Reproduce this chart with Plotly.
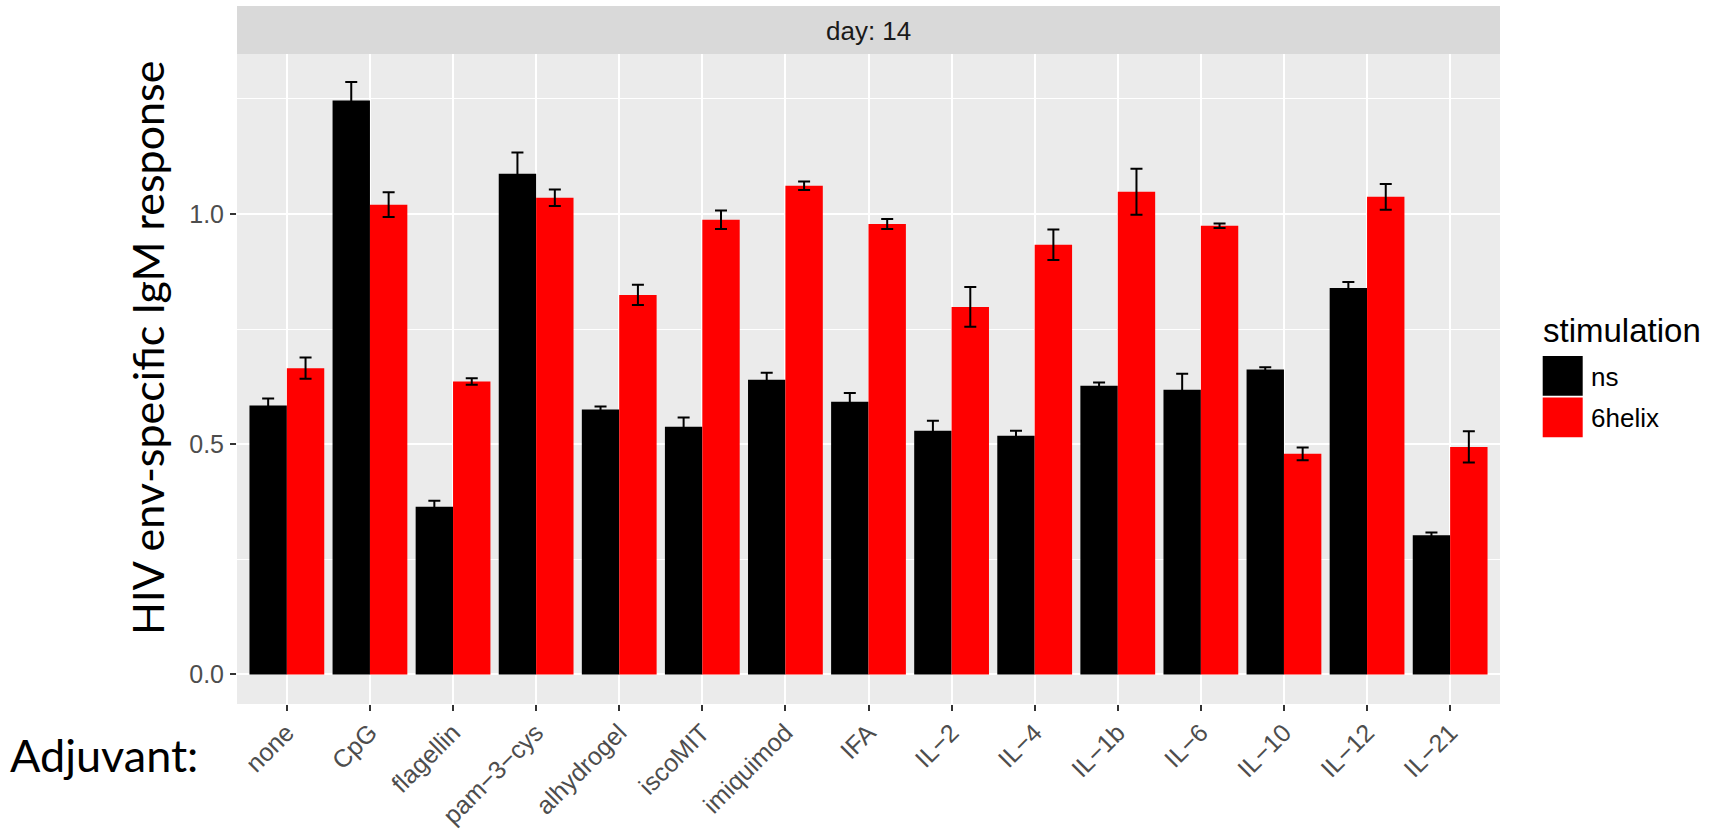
import plotly.graph_objects as go

# ---- data ----
categories = ["none", "CpG", "flagellin", "pam\u22123\u2212cys", "alhydrogel", "iscoMIT",
              "imiquimod", "IFA", "IL\u22122", "IL\u22124", "IL\u22121b", "IL\u22126",
              "IL\u221210", "IL\u221212", "IL\u221221"]
ns_values = [0.584, 1.246, 0.364, 1.087, 0.575, 0.538, 0.640, 0.592, 0.529, 0.518,
             0.627, 0.618, 0.662, 0.839, 0.302]
ns_err = [0.015, 0.040, 0.013, 0.046, 0.007, 0.020, 0.015, 0.019, 0.022, 0.011,
          0.007, 0.035, 0.005, 0.013, 0.006]
helix_values = [0.665, 1.020, 0.636, 1.035, 0.824, 0.987, 1.061, 0.978, 0.798, 0.933,
                1.048, 0.974, 0.479, 1.037, 0.494]
helix_err = [0.023, 0.027, 0.007, 0.018, 0.022, 0.020, 0.009, 0.011, 0.043, 0.033,
             0.050, 0.005, 0.014, 0.028, 0.034]
series_names = ["ns", "6helix"]
series_colors = ["#000000", "#FF0000"]
y_ticks = [0.0, 0.5, 1.0]
y_tick_labels = ["0.0", "0.5", "1.0"]
strip_label = "day: 14"
y_title = "HIV env-specific IgM response"
x_title = "Adjuvant:"
legend_title = "stimulation"

# ---- geometry (screen pixels of the 1721x833 window; body margin removed) ----
W, H = 1721, 833
PL, PR, PT, PB = 237, 1500, 54, 704
pw, ph = PR - PL, PB - PT


def px(x):
    return (x - PL) / pw


def py(y):
    return (PB - y) / ph


TICK_FONT = "Liberation Sans, Arial, sans-serif"

fig = go.Figure()
for name, vals, errs, col in [(series_names[0], ns_values, ns_err, series_colors[0]),
                              (series_names[1], helix_values, helix_err, series_colors[1])]:
    fig.add_trace(go.Bar(
        x=categories, y=vals, name=name, marker=dict(color=col, line=dict(width=0)),
        error_y=dict(type="data", array=errs, visible=True, color="black",
                     thickness=2, width=6),
        showlegend=False,
    ))

fig.update_layout(
    width=W, height=H,
    margin=dict(l=PL, r=W - PR, t=PT, b=H - PB, pad=0, autoexpand=False),
    paper_bgcolor="white", plot_bgcolor="#EBEBEB",
    barmode="group", bargap=0.1, bargroupgap=0,
    font=dict(family=TICK_FONT, size=26, color="#4D4D4D"),
)
fig.update_xaxes(
    type="category", range=[-0.6, len(categories) - 0.4], automargin=False,
    showgrid=True, gridcolor="white", gridwidth=2,
    zeroline=False, showline=False,
    ticks="outside", ticklen=6, tickwidth=2, tickcolor="#333333",
    tickangle=-45, tickfont=dict(family=TICK_FONT, size=25, color="#4D4D4D"),
    ticklabelstandoff=-3,
)
fig.update_yaxes(
    range=[-0.0641, 1.347], automargin=False,
    tickvals=y_ticks, ticktext=y_tick_labels,
    showgrid=True, gridcolor="white", gridwidth=2,
    minor=dict(tickvals=[0.25, 0.75, 1.25], showgrid=True, gridcolor="white",
               gridwidth=1, ticks=""),
    zeroline=False, showline=False,
    ticks="outside", ticklen=6, tickwidth=2, tickcolor="#333333",
    tickfont=dict(family=TICK_FONT, size=25, color="#4D4D4D"),
    ticklabelstandoff=1,
)

shapes = []
annotations = []
# facet strip
shapes.append(dict(type="rect", xref="paper", yref="paper", x0=0, x1=1,
                   y0=1, y1=py(6), fillcolor="#D9D9D9", line=dict(width=0)))
annotations.append(dict(text=strip_label, xref="paper", yref="paper", x=0.5, y=py(31),
                        xanchor="center", yanchor="middle", showarrow=False,
                        font=dict(family=TICK_FONT, size=26, color="#1A1A1A")))
# axis titles
annotations.append(dict(text=y_title, xref="paper", yref="paper", x=px(147), y=py(348),
                        xanchor="center", yanchor="middle", textangle=-90, showarrow=False,
                        font=dict(family="Lato, sans-serif", size=43, color="black")))
annotations.append(dict(text=x_title, xref="paper", yref="paper", x=px(8), y=py(755),
                        xanchor="left", yanchor="middle", showarrow=False,
                        font=dict(family="Lato, sans-serif", size=45, color="black")))
# legend (drawn manually to match ggplot's large keys)
annotations.append(dict(text=legend_title, xref="paper", yref="paper", x=px(1541), y=py(331),
                        xanchor="left", yanchor="middle", showarrow=False,
                        font=dict(family=TICK_FONT, size=33, color="black")))
key_tops = [356, 397.5]
for i, (name, col) in enumerate(zip(series_names, series_colors)):
    t = key_tops[i]
    shapes.append(dict(type="rect", xref="paper", yref="paper",
                       x0=px(1542.7), x1=px(1582.7), y0=py(t + 39.7), y1=py(t),
                       fillcolor=col, line=dict(width=0)))
    annotations.append(dict(text=name, xref="paper", yref="paper", x=px(1589),
                            y=py(t + 20.5), xanchor="left", yanchor="middle", showarrow=False,
                            font=dict(family=TICK_FONT, size=26, color="black")))

fig.update_layout(shapes=shapes, annotations=annotations)
fig.write_html("out.html", config={"displayModeBar": False},
               post_script="document.body.style.margin='0';document.body.style.overflow='hidden';")
